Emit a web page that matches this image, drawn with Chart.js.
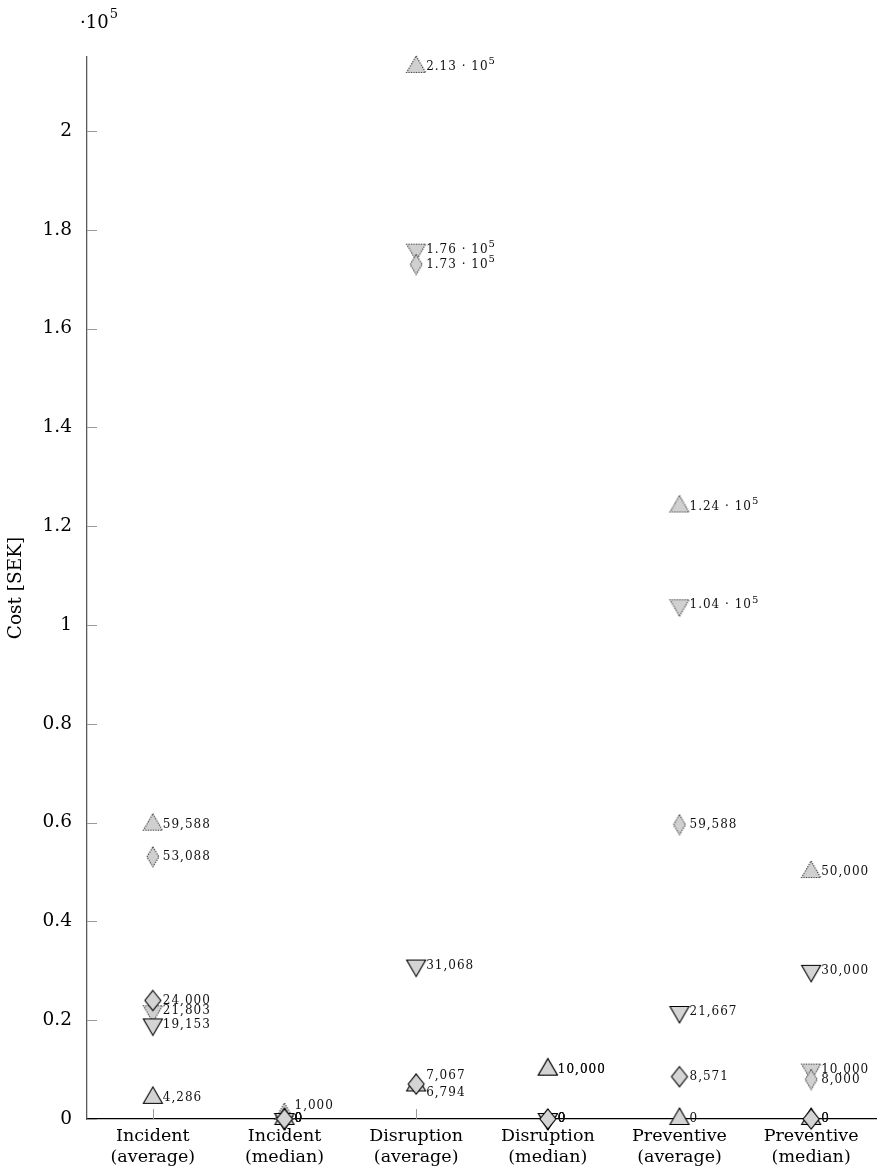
<!DOCTYPE html>
<html>
<head>
<meta charset="utf-8">
<script src="https://cdn.jsdelivr.net/npm/chart.js@4"></script>
<style>
  html, body { margin: 0; padding: 0; background: #fff; }
  #chart { display: block; }
</style>
</head>
<body>
<canvas id="chart" width="877" height="1170"></canvas>
<script>
// categories (two-line tick labels)
const categories = [
    ['Incident', '(average)'],
    ['Incident', '(median)'],
    ['Disruption', '(average)'],
    ['Disruption', '(median)'],
    ['Preventive', '(average)'],
    ['Preventive', '(median)']
];

// series values in SEK
const solidUp       = [4286,  0,    6794,   10000, 0,      0];
const solidDown     = [19153, 0,    31068,  0,     21667,  30000];
const solidDiamond  = [24000, 0,    7067,   0,     8571,   0];
const dottedUp      = [59588, 1000, 213000, 10000, 124000, 50000];
const dottedDown    = [21803, 0,    176000, 0,     104000, 10000];
const dottedDiamond = [53088, 0,    173000, 0,     59588,  8000];

// y axis ticks (in units of 10^5)
const yTicks = [0, 0.2, 0.4, 0.6, 0.8, 1, 1.2, 1.4, 1.6, 1.8, 2];
const Y_MAX = 215000;

const SERIF = "'DejaVu Serif', 'Liberation Serif', serif";

/* --- marker images --- */
function makeMarker(shape, dotted) {
    const c = document.createElement('canvas');
    c.width = 30; c.height = 30;
    const ctx = c.getContext('2d');
    const cx = 15, cy = 15;
    ctx.beginPath();
    if (shape === 'up' || shape === 'down') {
        const r = 11, s = shape === 'up' ? 1 : -1;
        const hx = r * Math.cos(Math.PI / 6);
        ctx.moveTo(cx, cy - s * r);
        ctx.lineTo(cx + hx, cy + s * r / 2);
        ctx.lineTo(cx - hx, cy + s * r / 2);
    } else {
        const hw = dotted ? 6 : 8, hh = 10;
        ctx.moveTo(cx, cy - hh);
        ctx.lineTo(cx + hw, cy);
        ctx.lineTo(cx, cy + hh);
        ctx.lineTo(cx - hw, cy);
    }
    ctx.closePath();
    if (dotted) {
        ctx.fillStyle = '#d0d0d0';
        ctx.fill();
        ctx.setLineDash([1.2, 1.3]);
        ctx.strokeStyle = '#222';
        ctx.lineWidth = 1.1;
    } else {
        ctx.fillStyle = '#d4d4d4';
        ctx.fill();
        ctx.strokeStyle = '#000';
        ctx.lineWidth = 1.1;
    }
    ctx.stroke();
    return c;
}

function series(data, shape, dotted) {
    return {
        data: data,
        pointStyle: makeMarker(shape, dotted),
        pointRadius: 10,
        showLine: false,
        clip: false
    };
}

/* --- label formatting --- */
function drawValueLabel(ctx, v, x, y) {
    ctx.fillStyle = '#111';
    ctx.textAlign = 'left';
    ctx.textBaseline = 'middle';
    ctx.font = '12px ' + SERIF;
    if ('letterSpacing' in ctx) ctx.letterSpacing = '1px';
    if (v >= 100000) {
        const txt = (v / 100000).toFixed(2) + ' \u00b7 10';
        ctx.fillText(txt, x, y);
        const w = ctx.measureText(txt).width;
        ctx.font = '10px ' + SERIF;
        ctx.fillText('5', x + w, y - 5);
    } else {
        ctx.fillText(v.toLocaleString('en-US'), x, y);
    }
    if ('letterSpacing' in ctx) ctx.letterSpacing = '0px';
}

const decorPlugin = {
    id: 'decor',
    beforeDatasetsDraw(chart) {
        const ctx = chart.ctx;
        const xs = chart.scales.x, ys = chart.scales.y;
        const area = chart.chartArea;
        ctx.save();
        ctx.strokeStyle = '#9a9a9a';
        ctx.lineWidth = 1;
        // inner tick marks
        yTicks.forEach(t => {
            const py = Math.round(ys.getPixelForValue(t * 100000)) + 0.5;
            ctx.beginPath();
            ctx.moveTo(area.left, py);
            ctx.lineTo(area.left + 10, py);
            ctx.stroke();
        });
        categories.forEach((c, i) => {
            const px = Math.round(xs.getPixelForValue(i)) + 0.5;
            ctx.beginPath();
            ctx.moveTo(px, area.bottom);
            ctx.lineTo(px, area.bottom - 10);
            ctx.stroke();
        });
        // axis multiplier
        ctx.fillStyle = '#000';
        ctx.textAlign = 'left';
        ctx.textBaseline = 'alphabetic';
        ctx.font = '18px ' + SERIF;
        ctx.fillText('\u00b710', 80, 28);
        const w = ctx.measureText('\u00b710').width;
        ctx.font = '13px ' + SERIF;
        ctx.fillText('5', 80 + w + 1, 18);
        ctx.restore();
    },
    afterDatasetsDraw(chart) {
        const ctx = chart.ctx;
        ctx.save();
        const labels = [];
        chart.data.datasets.forEach((ds, di) => {
            const meta = chart.getDatasetMeta(di);
            meta.data.forEach((el, i) => {
                labels.push({ cat: i, v: ds.data[i], x: el.x + 10, y: el.y });
            });
        });
        // spread labels that sit almost on top of each other
        labels.forEach(a => {
            labels.forEach(b => {
                if (a === b || a.cat !== b.cat || a.v <= b.v) return;
                if (Math.abs(a.y - b.y) < 6) {
                    a.dy = -8;
                    if (b.v !== 0) b.dy = 7;
                }
            });
        });
        labels.forEach(l => drawValueLabel(ctx, l.v, l.x, l.y + (l.dy || 0)));
        ctx.restore();
    }
};

// first dataset is drawn on top
new Chart(document.getElementById('chart'), {
    type: 'line',
    data: {
        labels: categories,
        datasets: [
            series(solidDiamond, 'diamond', false),
            series(solidDown, 'down', false),
            series(solidUp, 'up', false),
            series(dottedDiamond, 'diamond', true),
            series(dottedDown, 'down', true),
            series(dottedUp, 'up', true)
        ]
    },
    options: {
        responsive: false,
        animation: false,
        layout: { autoPadding: false, padding: { top: 57, right: 0, left: 0, bottom: 0 } },
        plugins: {
            legend: { display: false },
            tooltip: { enabled: false }
        },
        scales: {
            x: {
                type: 'category',
                offset: true,
                grid: { display: false, drawTicks: false },
                border: { display: true, color: '#000', width: 1.2 },
                ticks: {
                    color: '#000',
                    font: { family: SERIF, size: 17.5, lineHeight: 1.2 },
                    padding: 7,
                    maxRotation: 0,
                    autoSkip: false
                },
                afterFit: s => {
                    s.height = 51;
                    s.paddingLeft = 0;
                    s.paddingRight = 0;
                }
            },
            y: {
                min: 0,
                max: Y_MAX,
                grid: { display: false, drawTicks: false },
                border: { display: true, color: '#5a5a5a', width: 1.3 },
                afterBuildTicks: s => { s.ticks = yTicks.map(t => ({ value: t * 100000 })); },
                ticks: {
                    color: '#000',
                    font: { family: SERIF, size: 18.5 },
                    padding: 15,
                    callback: v => String(Math.round(v / 10000) / 10)
                },
                title: {
                    display: true,
                    text: 'Cost [SEK]',
                    color: '#000',
                    font: { family: SERIF, size: 18.5 },
                    padding: { top: 5, bottom: 0 }
                },
                afterFit: s => {
                    s.width = 87;
                    s.paddingTop = 0;
                    s.paddingBottom = 0;
                }
            }
        }
    },
    plugins: [decorPlugin]
});
</script>
</body>
</html>
